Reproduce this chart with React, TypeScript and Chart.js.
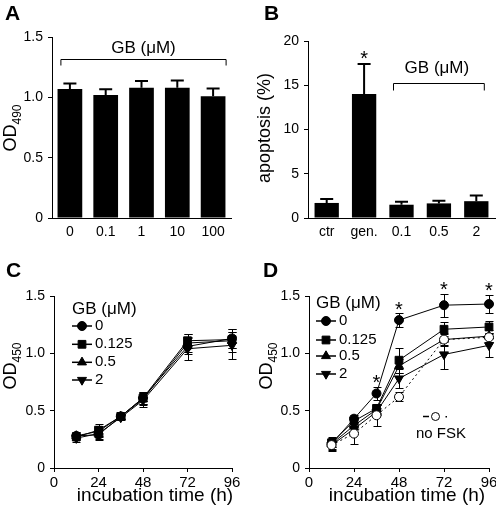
import React, { useEffect, useRef } from 'react';
import { Chart, registerables } from 'chart.js';
import { drawPoint } from 'chart.js/helpers';

Chart.register(...registerables);

const FONT = '"Liberation Sans", Arial, Helvetica, sans-serif';

// ---------- Panel A ----------
const aCategories = ['0', '0.1', '1', '10', '100'];
const aValues = [1.07, 1.02, 1.08, 1.08, 1.01];
const aErrors = [0.045, 0.047, 0.055, 0.06, 0.063];

// ---------- Panel B ----------
const bCategories = ['ctr', 'gen.', '0.1', '0.5', '2'];
const bValues = [1.7, 14.0, 1.5, 1.65, 1.9];
const bErrors = [0.45, 3.4, 0.35, 0.3, 0.65];

// ---------- Panels C, D ----------
const times = [12, 24, 36, 48, 72, 96];
const xTicks = [0, 24, 48, 72, 96];
const seriesLabels = ['0', '0.125', '0.5', '2'];

const c0 = [0.28, 0.29, 0.45, 0.61, 1.06, 1.13];
const c0125 = [0.27, 0.33, 0.45, 0.61, 1.11, 1.12];
const c05 = [0.28, 0.32, 0.45, 0.6, 1.09, 1.11];
const c2 = [0.26, 0.3, 0.44, 0.59, 1.04, 1.07];
const c0Err = [0.03, 0.05, 0.02, 0.05, 0.07, 0.08];
const c0125Err = [0.03, 0.05, 0.02, 0.05, 0.06, 0.07];
const c05Err = [0.03, 0.05, 0.02, 0.05, 0.08, 0.1];
const c2Err = [0.03, 0.05, 0.02, 0.06, 0.1, 0.12];

const d0 = [0.21, 0.43, 0.65, 1.29, 1.42, 1.43];
const d0125 = [0.22, 0.41, 0.52, 0.94, 1.21, 1.23];
const d05 = [0.21, 0.37, 0.51, 0.89, 1.12, 1.15];
const d2 = [0.2, 0.34, 0.49, 0.78, 0.99, 1.07];
const dNoFsk = [0.2, 0.3, 0.46, 0.62, 1.12, 1.14];
const d0Err = [0.06, 0.03, 0.06, 0.06, 0.1, 0.08];
const d0125Err = [0.04, 0.03, 0.04, 0.11, 0.06, 0.05];
const d05Err = [0.03, 0.03, 0.04, 0.06, 0.05, 0.05];
const d2Err = [0.03, 0.03, 0.03, 0.08, 0.13, 0.1];
const dNoFskErr = [0.04, 0.09, 0.09, 0.04, 0.06, 0.04];
const dStarTimes = [36, 48, 72, 96];

// marker styles (not data)
const markerStyles = [
  { pointStyle: 'circle', radius: 4.5, rotation: 0 },
  { pointStyle: 'rect', radius: 5.5, rotation: 0 },
  { pointStyle: 'triangle', radius: 5.2, rotation: 0 },
  { pointStyle: 'triangle', radius: 5.2, rotation: 180 },
];

const W = 248;
const H = 255;

function setFont(ctx: CanvasRenderingContext2D, size: number, bold = false) {
  ctx.font = `${bold ? 'bold ' : ''}${size}px ${FONT}`;
}

function text(
  ctx: CanvasRenderingContext2D,
  s: string,
  x: number,
  y: number,
  size: number,
  align: CanvasTextAlign = 'left',
  bold = false,
  baseline: CanvasTextBaseline = 'alphabetic'
) {
  ctx.save();
  setFont(ctx, size, bold);
  ctx.fillStyle = '#000';
  ctx.textAlign = align;
  ctx.textBaseline = baseline;
  ctx.fillText(s, x, y);
  ctx.restore();
}

function yTitle(
  ctx: CanvasRenderingContext2D,
  cx: number,
  cy: number,
  main: string,
  sub: string,
  mainSize: number,
  subSize: number
) {
  ctx.save();
  ctx.translate(cx, cy);
  ctx.rotate(-Math.PI / 2);
  ctx.fillStyle = '#000';
  ctx.textBaseline = 'alphabetic';
  ctx.textAlign = 'left';
  setFont(ctx, mainSize);
  const w1 = ctx.measureText(main).width;
  setFont(ctx, subSize);
  const w2 = sub ? ctx.measureText(sub).width : 0;
  const start = -(w1 + w2) / 2;
  setFont(ctx, mainSize);
  ctx.fillText(main, start, 0);
  if (sub) {
    setFont(ctx, subSize);
    ctx.fillText(sub, start + w1, 5);
  }
  ctx.restore();
}

function star(ctx: CanvasRenderingContext2D, cx: number, cy: number) {
  text(ctx, '*', cx, cy + 11.5, 20, 'center');
}

function yAxisOpts(min: number, max: number, step: number, left: number, fmt: (v: number) => string) {
  return {
    min,
    max,
    ticks: {
      stepSize: step,
      font: { family: FONT, size: 14 },
      color: '#000',
      padding: 5,
      callback: (v: any) => fmt(Number(v)),
    },
    grid: { display: true, drawOnChartArea: false, drawTicks: true, tickLength: 4, color: '#000', lineWidth: 1 },
    border: { display: true, color: '#000', width: 1 },
    afterFit: (s: any) => {
      s.width = left;
      s.paddingTop = 0;
      s.paddingBottom = 0;
    },
  };
}

function catAxisOpts(bottom: number) {
  return {
    grid: { display: false, drawTicks: false },
    border: { display: true, color: '#000', width: 1 },
    ticks: { font: { family: FONT, size: 14 }, color: '#000', padding: 6 },
    afterFit: (s: any) => {
      s.height = H - bottom;
      s.paddingLeft = 0;
      s.paddingRight = 0;
    },
  };
}

function timeAxisOpts(bottom: number) {
  return {
    type: 'linear',
    min: 0,
    max: 96,
    afterBuildTicks: (s: any) => {
      s.ticks = xTicks.map((v) => ({ value: v }));
    },
    ticks: { font: { family: FONT, size: 15 }, color: '#000', padding: 2 },
    grid: { display: true, drawOnChartArea: false, drawTicks: true, tickLength: 4, color: '#000', lineWidth: 1 },
    border: { display: true, color: '#000', width: 1 },
    afterFit: (s: any) => {
      s.height = H - bottom;
      s.paddingLeft = 0;
      s.paddingRight = 0;
    },
  };
}

const fmt1 = (v: number) => (v === 0 ? '0' : v.toFixed(1));
const fmt0 = (v: number) => String(Math.round(v));

function barErrorPlugin(values: number[], errors: number[]) {
  return {
    id: 'barErrors',
    afterDatasetsDraw(chart: any) {
      const { ctx } = chart;
      const ys = chart.scales.y;
      const meta = chart.getDatasetMeta(0);
      ctx.save();
      ctx.strokeStyle = '#000';
      ctx.lineWidth = 2;
      meta.data.forEach((el: any, i: number) => {
        const x = el.x;
        const yv = ys.getPixelForValue(values[i]);
        const yt = ys.getPixelForValue(values[i] + errors[i]);
        ctx.beginPath();
        ctx.moveTo(x, yv);
        ctx.lineTo(x, yt);
        ctx.moveTo(x - 6.5, yt);
        ctx.lineTo(x + 6.5, yt);
        ctx.stroke();
      });
      ctx.restore();
    },
  };
}

function lineErrorPlugin(values: number[][], errors: number[][]) {
  return {
    id: 'lineErrors',
    beforeDatasetsDraw(chart: any) {
      const { ctx } = chart;
      const xs = chart.scales.x;
      const ys = chart.scales.y;
      ctx.save();
      ctx.strokeStyle = '#000';
      ctx.lineWidth = 1;
      values.forEach((vals, k) => {
        vals.forEach((v, i) => {
          const x = Math.round(xs.getPixelForValue(times[i])) + 0.5;
          const yt = Math.round(ys.getPixelForValue(v + errors[k][i])) + 0.5;
          const yb = Math.round(ys.getPixelForValue(v - errors[k][i])) + 0.5;
          ctx.beginPath();
          ctx.moveTo(x, yt);
          ctx.lineTo(x, yb);
          ctx.moveTo(x - 4, yt);
          ctx.lineTo(x + 4, yt);
          ctx.moveTo(x - 4, yb);
          ctx.lineTo(x + 4, yb);
          ctx.stroke();
        });
      });
      ctx.restore();
    },
  };
}

function legendBlock(ctx: CanvasRenderingContext2D, x0: number, titleY: number, rowYs: number[]) {
  text(ctx, 'GB (μM)', x0, titleY, 17, 'left');
  rowYs.forEach((y, i) => {
    ctx.save();
    ctx.strokeStyle = '#000';
    ctx.lineWidth = 1.5;
    ctx.beginPath();
    ctx.moveTo(x0, y);
    ctx.lineTo(x0 + 20, y);
    ctx.stroke();
    ctx.fillStyle = '#000';
    ctx.lineWidth = 1;
    const m = markerStyles[i];
    drawPoint(ctx, { pointStyle: m.pointStyle as any, radius: m.radius, rotation: m.rotation, borderWidth: 1 }, x0 + 10, y);
    ctx.restore();
    text(ctx, seriesLabels[i], x0 + 23, y, 15, 'left', false, 'middle');
  });
}

function lineDatasets(series: number[][], withNoFsk: number[] | null) {
  const ds: any[] = series.map((vals, k) => ({
    data: vals.map((v, i) => ({ x: times[i], y: v })),
    borderColor: '#000',
    borderWidth: 1,
    backgroundColor: '#000',
    pointBackgroundColor: '#000',
    pointBorderColor: '#000',
    pointBorderWidth: 1,
    pointStyle: markerStyles[k].pointStyle,
    pointRadius: markerStyles[k].radius,
    pointRotation: markerStyles[k].rotation,
    tension: 0,
    clip: false,
    order: k,
  }));
  if (withNoFsk) {
    ds.push({
      data: withNoFsk.map((v, i) => ({ x: times[i], y: v })),
      borderColor: '#000',
      borderWidth: 1,
      borderDash: [2, 3],
      pointBackgroundColor: '#fff',
      pointBorderColor: '#000',
      pointBorderWidth: 1,
      pointStyle: 'circle',
      pointRadius: 4.5,
      tension: 0,
      clip: false,
      order: -1,
    });
  }
  return ds;
}

const baseOpts = {
  animation: false,
  responsive: false,
  maintainAspectRatio: false,
  devicePixelRatio: 1,
  events: [],
  plugins: { legend: { display: false }, tooltip: { enabled: false }, title: { display: false } },
};

function buildA(): any {
  return {
    type: 'bar',
    data: {
      labels: aCategories,
      datasets: [
        { data: aValues, backgroundColor: '#000', borderWidth: 0, barPercentage: 0.69, categoryPercentage: 1 },
      ],
    },
    options: {
      ...baseOpts,
      layout: { padding: { top: 37, right: 17, left: 0, bottom: 0 } },
      scales: {
        x: catAxisOpts(218),
        y: yAxisOpts(0, 1.5, 0.5, 52, fmt1),
      },
    },
    plugins: [
      barErrorPlugin(aValues, aErrors),
      {
        id: 'decoA',
        afterDraw(chart: any) {
          const { ctx } = chart;
          const xs = chart.scales.x;
          const ys = chart.scales.y;
          text(ctx, 'A', 5, 20, 21, 'left', true);
          yTitle(ctx, 16, 128, 'OD', '490', 18, 12);
          const x1 = xs.getPixelForValue(0) - 9;
          const x2 = xs.getPixelForValue(aCategories.length - 1) + 13;
          const yb = Math.round(ys.getPixelForValue(1.32)) + 0.5;
          ctx.save();
          ctx.strokeStyle = '#000';
          ctx.lineWidth = 1;
          ctx.beginPath();
          ctx.moveTo(x1, yb + 6);
          ctx.lineTo(x1, yb);
          ctx.lineTo(x2, yb);
          ctx.lineTo(x2, yb + 6);
          ctx.stroke();
          ctx.restore();
          text(ctx, 'GB (μM)', (x1 + x2) / 2, 53, 17, 'center');
        },
      },
    ],
  };
}

function buildB(): any {
  return {
    type: 'bar',
    data: {
      labels: bCategories,
      datasets: [
        { data: bValues, backgroundColor: '#000', borderWidth: 0, barPercentage: 0.65, categoryPercentage: 1 },
      ],
    },
    options: {
      ...baseOpts,
      layout: { padding: { top: 41, right: 1, left: 0, bottom: 0 } },
      scales: {
        x: catAxisOpts(218),
        y: yAxisOpts(0, 20, 5, 60, fmt0),
      },
    },
    plugins: [
      barErrorPlugin(bValues, bErrors),
      {
        id: 'decoB',
        afterDraw(chart: any) {
          const { ctx } = chart;
          const xs = chart.scales.x;
          const ys = chart.scales.y;
          text(ctx, 'B', 16, 20, 21, 'left', true);
          yTitle(ctx, 22, 128, 'apoptosis (%)', '', 18, 12);
          // asterisk above gen.
          star(ctx, xs.getPixelForValue(1), ys.getPixelForValue(bValues[1] + bErrors[1]) - 11);
          const x1 = xs.getPixelForValue(2) - 8;
          const x2 = xs.getPixelForValue(4) + 8;
          const yb = Math.round(ys.getPixelForValue(15.3)) + 0.5;
          ctx.save();
          ctx.strokeStyle = '#000';
          ctx.lineWidth = 1;
          ctx.beginPath();
          ctx.moveTo(x1, yb + 7);
          ctx.lineTo(x1, yb);
          ctx.lineTo(x2, yb);
          ctx.lineTo(x2, yb + 7);
          ctx.stroke();
          ctx.restore();
          text(ctx, 'GB (μM)', (x1 + x2) / 2 - 2, 73, 17, 'center');
        },
      },
    ],
  };
}

function buildC(): any {
  const series = [c0, c0125, c05, c2];
  const errs = [c0Err, c0125Err, c05Err, c2Err];
  return {
    type: 'line',
    data: { datasets: lineDatasets(series, null) },
    options: {
      ...baseOpts,
      layout: { padding: { top: 41, right: 16, left: 0, bottom: 0 } },
      scales: {
        x: timeAxisOpts(213),
        y: yAxisOpts(0, 1.5, 0.5, 54, fmt1),
      },
    },
    plugins: [
      lineErrorPlugin(series, errs),
      {
        id: 'decoC',
        afterDraw(chart: any) {
          const { ctx } = chart;
          text(ctx, 'C', 6, 22, 21, 'left', true);
          yTitle(ctx, 16, 111, 'OD', '450', 18, 12);
          text(ctx, 'incubation time (h)', 155, 246, 19, 'center');
          legendBlock(ctx, 72, 59, [71, 89.3, 107.3, 125]);
        },
      },
    ],
  };
}

function buildD(): any {
  const series = [d0, d0125, d05, d2];
  const errs = [d0Err, d0125Err, d05Err, d2Err, dNoFskErr];
  return {
    type: 'line',
    data: { datasets: lineDatasets(series, dNoFsk) },
    options: {
      ...baseOpts,
      layout: { padding: { top: 41, right: 7, left: 0, bottom: 0 } },
      scales: {
        x: timeAxisOpts(213),
        y: yAxisOpts(0, 1.5, 0.5, 61, fmt1),
      },
    },
    plugins: [
      lineErrorPlugin([...series, dNoFsk], errs),
      {
        id: 'decoD',
        afterDraw(chart: any) {
          const { ctx } = chart;
          const xs = chart.scales.x;
          const ys = chart.scales.y;
          text(ctx, 'D', 15, 22, 21, 'left', true);
          yTitle(ctx, 24, 111, 'OD', '450', 18, 12);
          text(ctx, 'incubation time (h)', 159, 246, 19, 'center');
          legendBlock(ctx, 68, 53, [66, 85, 101, 119]);
          // significance stars above the 0 µM series
          dStarTimes.forEach((t) => {
            const i = times.indexOf(t);
            star(ctx, xs.getPixelForValue(t), ys.getPixelForValue(d0[i] + d0Err[i]) - 9);
          });
          // no FSK legend
          ctx.save();
          ctx.strokeStyle = '#000';
          ctx.lineWidth = 1.5;
          ctx.beginPath();
          ctx.moveTo(175, 161.5);
          ctx.lineTo(181, 161.5);
          ctx.stroke();
          ctx.lineWidth = 1;
          ctx.fillStyle = '#fff';
          ctx.beginPath();
          ctx.arc(187.5, 161.5, 4, 0, Math.PI * 2);
          ctx.fill();
          ctx.stroke();
          ctx.fillStyle = '#000';
          ctx.fillRect(197.5, 161, 1.5, 1.5);
          ctx.restore();
          text(ctx, 'no FSK', 168, 179, 15, 'left', false, 'middle');
        },
      },
    ],
  };
}

function ChartPanel({ left, top, build }: { left: number; top: number; build: () => any }) {
  const ref = useRef<HTMLCanvasElement>(null);
  useEffect(() => {
    const chart = new Chart(ref.current as HTMLCanvasElement, build());
    return () => chart.destroy();
  }, []);
  return (
    <canvas
      ref={ref}
      width={W}
      height={H}
      style={{ position: 'absolute', left, top, width: W, height: H, display: 'block' }}
    />
  );
}

export default function App() {
  return (
    <div
      style={{
        position: 'absolute',
        left: 0,
        top: 0,
        width: 496,
        height: 510,
        background: '#fff',
        overflow: 'hidden',
      }}
    >
      <ChartPanel left={0} top={0} build={buildA} />
      <ChartPanel left={248} top={0} build={buildB} />
      <ChartPanel left={0} top={255} build={buildC} />
      <ChartPanel left={248} top={255} build={buildD} />
    </div>
  );
}
